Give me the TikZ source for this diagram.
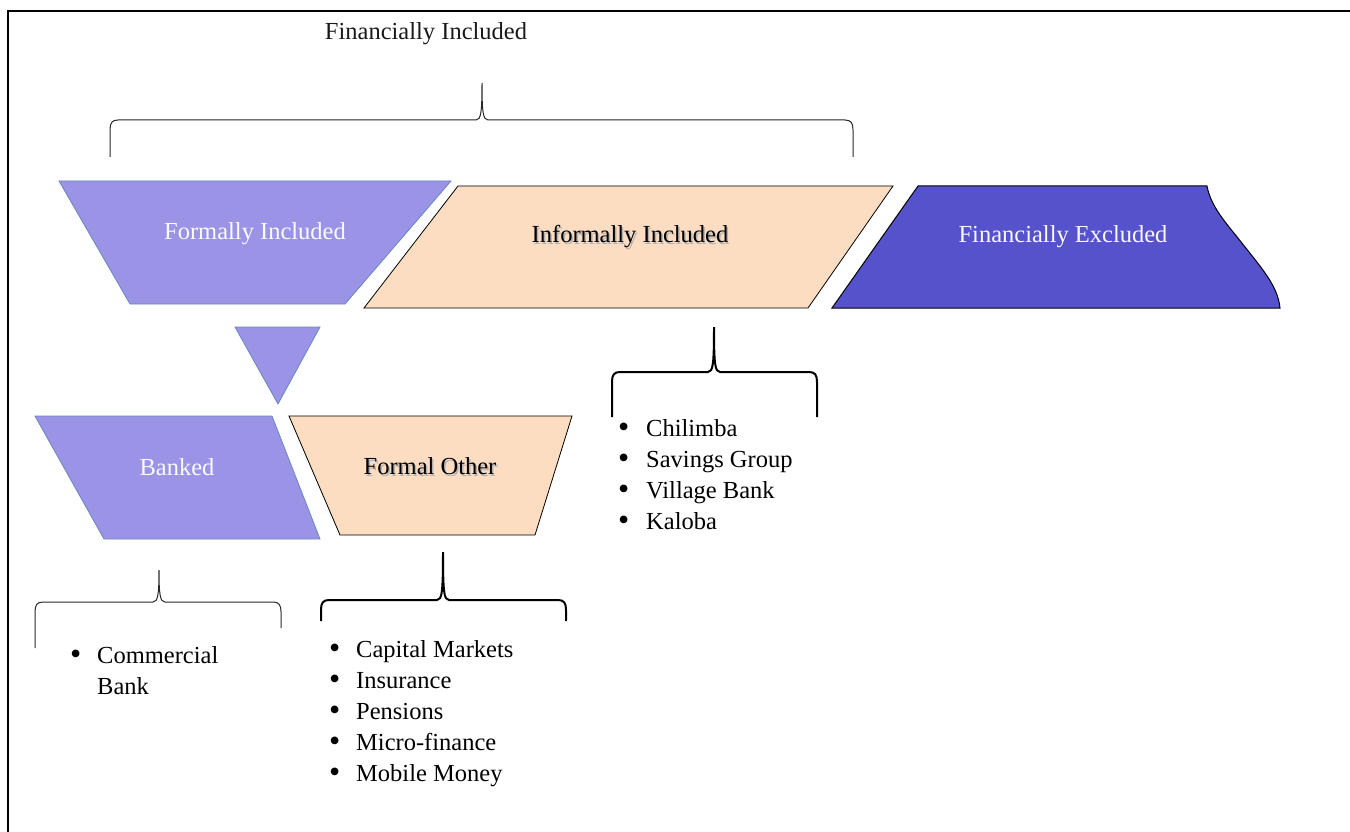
\documentclass[tikz,border=0pt]{standalone}
\usepackage{fontspec}
\setmainfont{Liberation Serif}

\definecolor{lavender}{RGB}{154,147,230}
\definecolor{lavline}{RGB}{105,135,190}
\definecolor{peach}{RGB}{252,221,193}
\definecolor{exclviolet}{RGB}{85,82,204}

% curly bracket: [style]{left x}{right x}{tip x}{tip y}{bar y}{left end y}{right end y}
\newcommand{\curlybr}[8][]{%
  \draw[#1] (#2,#7) -- (#2,#6+10) .. controls (#2,#6+3) and (#2+2,#6) .. (#2+8,#6)
    -- (#4-6,#6) .. controls (#4-1,#6) and (#4,#6-8) .. (#4,#5)
    .. controls (#4,#6-8) and (#4+1,#6) .. (#4+6,#6)
    -- (#3-8,#6) .. controls (#3-2,#6) and (#3,#6+3) .. (#3,#6+10) -- (#3,#8);}
% list bullet
\newcommand{\itembullet}[1]{\makebox[#1][l]{\raisebox{-1pt}{\fontsize{32}{31}\selectfont\textbullet}}}

\begin{document}
\begin{tikzpicture}[x=1pt,y=-1pt]
        \tikzstyle{every node}=[inner sep=0pt, font=\fontsize{24.5}{31}\selectfont]
        \tikzstyle{formal}=[fill=lavender, draw=lavline, line width=0.8pt]
        \tikzstyle{informal}=[fill=peach, draw=black, line width=0.8pt]
        \tikzstyle{excluded}=[fill=exclviolet, draw=black, line width=1pt]
        \tikzstyle{thinbrace}=[draw=black!85, line width=1pt]
        \tikzstyle{thickbrace}=[draw=black, line width=2pt]
        \tikzstyle{shapetext}=[anchor=base]
        \tikzstyle{textshadow}=[anchor=base, text=black!30]
        \tikzstyle{itemlist}=[anchor=base west]

        \useasboundingbox (0,0) rectangle (1350,832);
        % frame
        \draw[line width=1.1pt] (8,832) -- (8,11) -- (1350,11);

        % top level
        \node[shapetext, text=black!90] (included) at (426,40) {Financially Included};
        \curlybr[thinbrace]{110}{853}{482}{83}{120}{157}{157}

        \draw[formal] (59,181) -- (451,181) -- (345,304) -- (130,304) -- cycle;
        \draw[informal] (458,186) -- (893,186) -- (808,308) -- (364,308) -- cycle;
        \draw[excluded] (918,186) -- (1207,186) .. controls (1211,208) and (1228,225) .. (1245,247)
            .. controls (1265,272) and (1278,288) .. (1280,308) -- (832,308) -- cycle;

        \node[shapetext, text=white!96!lavender] (formally) at (255,239) {Formally Included};
        \node[textshadow] (informallyshadow) at (631.5,244.5) {Informally Included};
        \node[shapetext] (informally) at (630,242) {Informally Included};
        \node[shapetext, text=white!96!exclviolet] (excluded) at (1063,242) {Financially Excluded};

        % formal split
        \draw[formal] (235,327) -- (320,327) -- (278,404) -- cycle;
        \draw[formal] (35,416) -- (272,416) -- (320,539) -- (104,539) -- cycle;
        \draw[informal] (289,416) -- (572,416) -- (535,535) -- (340,535) -- cycle;

        \node[shapetext, text=white!96!lavender] (banked) at (177,475) {Banked};
        \node[textshadow] (othershadow) at (431.5,476.5) {Formal Other};
        \node[shapetext] (other) at (430,474) {Formal Other};

        % brackets and lists
        \curlybr[thickbrace]{612}{817}{714}{327}{372}{417}{417}
        \curlybr[thinbrace]{35}{281}{159}{570}{602}{648}{628}
        \curlybr[thickbrace]{321}{566}{443}{552}{600}{621}{621}

        \node[itemlist] (informallist) at (618,436) {\begin{tabular}[t]{@{}l@{}}
            \itembullet{28pt}Chilimba\\
            \itembullet{28pt}Savings Group\\
            \itembullet{28pt}Village Bank\\
            \itembullet{28pt}Kaloba
            \end{tabular}};
        \node[itemlist] (bankedlist) at (70,663) {\begin{tabular}[t]{@{}l@{}}
            \itembullet{27pt}Commercial\\
            \makebox[27pt][l]{}Bank
            \end{tabular}};
        \node[itemlist] (otherlist) at (329,657) {\begin{tabular}[t]{@{}l@{}}
            \itembullet{27pt}Capital Markets\\
            \itembullet{27pt}Insurance\\
            \itembullet{27pt}Pensions\\
            \itembullet{27pt}Micro-finance\\
            \itembullet{27pt}Mobile Money
            \end{tabular}};
\end{tikzpicture}
\end{document}
